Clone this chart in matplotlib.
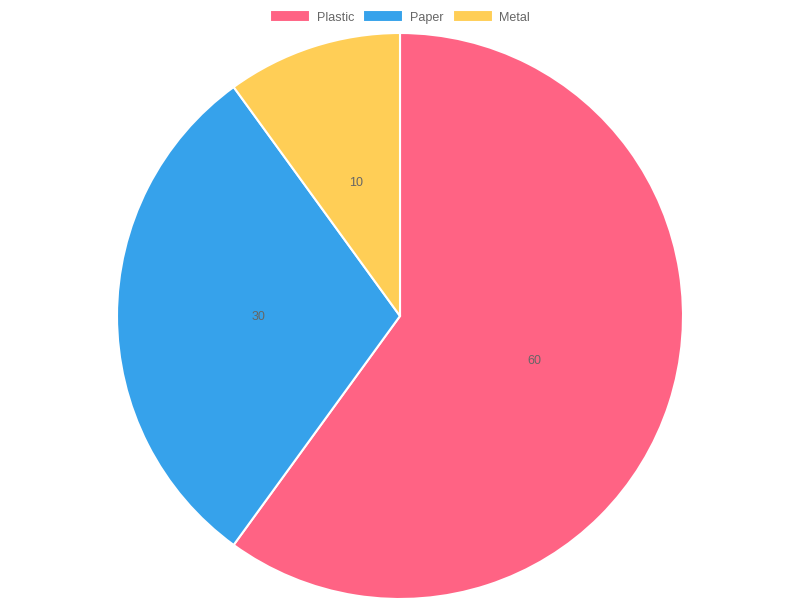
import matplotlib
matplotlib.use("Agg")
import matplotlib.pyplot as plt

plt.rcParams['font.family'] = ['Liberation Sans', 'DejaVu Sans']

labels = ['Plastic', 'Paper', 'Metal']
values = [60, 30, 10]
colors = ['#FF6384', '#36A2EB', '#FFCE56']

fig = plt.figure(figsize=(8, 6), dpi=100)
ax = fig.add_axes([0, 0, 1, 1])

wedges, texts = ax.pie(
    values, labels=[str(v) for v in values], colors=colors,
    startangle=90, counterclock=False, center=(400, 284), radius=283,
    labeldistance=0.5, frame=True,
    wedgeprops=dict(edgecolor='white', linewidth=1.5),
    textprops=dict(color='#666666', fontsize=9, ha='center', va='center_baseline'),
)
ax.set_xlim(0, 800)
ax.set_ylim(0, 600)
ax.axis('off')

fig.legend(wedges, labels, loc='center', bbox_to_anchor=(0.5, 1 - 17 / 600),
           ncol=3, frameon=False, fontsize=9, labelcolor='#666666',
           handlelength=3.2, handleheight=1.1, handletextpad=0.5,
           columnspacing=0.75, borderpad=0, borderaxespad=0)

fig.savefig('out.png', dpi=100)
